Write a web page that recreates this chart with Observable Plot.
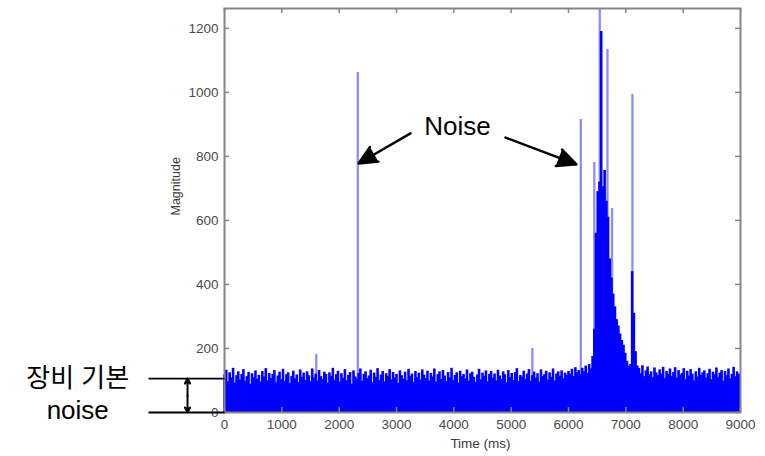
<!DOCTYPE html>
<html>
<head>
<meta charset="utf-8">
<script src="https://cdn.jsdelivr.net/npm/d3@7"></script>
<script src="https://cdn.jsdelivr.net/npm/@observablehq/plot@0.6"></script>
<style>
  html, body { margin: 0; padding: 0; background: #fff; }
</style>
</head>
<body>
<div id="chart"></div>
<script>
// ---- data ----
const sampleMs = 30; // sample interval of the magnitude trace (ms)
const noise = [
  118,132,96,124,108,138,92,115,127,101,119,134,98,112,125,88,121,109,130,104,
  116,95,128,111,137,99,122,106,119,131,93,114,126,102,135,97,118,124,90,113,
  129,105,117,94,133,110,123,100,127,115,96,136,108,120,98,131,112,103,126,119,
  92,124,113,138,101,118,129,95,121,107,134,99,116,125,88,130,111,104,122,136,
  97,119,127,106,114,132,93,123,110,137,100,117,128,96,121,113,134,102,125,108,
  119,91,130,115,104,126,99,135,112,120,94,128,109,123,101,133,117,106,129,98,
  122,111,136,95,118,127,103,131,114,97,125,108,138,100,116,124,92,129,112,119,
  105,133,98,121,126,110,94,117,135,102,123,113,130,96,119,128,107,120,99,132,
  114,103,127,118,93,131,109,122,100,125,137,97,116,111,129,104,120,134,98,115,
  126,107,121,95,133,112,118,129,101,124,110,136,99,120,127,113,130,105,123,116,
  128,119,135,112,140,125,131,118,138,127,145,122,150,136,
  175,260,560,690,720,1190,705,756,660,610,480,420,370,330,290,270,245,225,210,185,160,145,150,440,310,190,145,
  138,121,146,112,130,142,118,127,109,139,124,115,133,120,141,106,128,119,136,113,
  125,140,108,131,117,122,137,103,129,114,134,120,99,127,111,138,116,124,130,107,
  121,135,102,126,118,139,110,123,131,98,128,115,136,105,119,141,112,127,120
];
// isolated thin spikes (drawn lighter)
const spikeTimes = [1600, 2325, 5370, 6215, 6450, 6545, 6680, 6760, 7115];
const spikeMags  = [181, 1062, 200, 915, 781, 1262, 1134, 637, 994];

const xTicks = [0,1000,2000,3000,4000,5000,6000,7000,8000,9000];
const yTicks = [0,200,400,600,800,1000,1200];
const xDomain = [0, 9000];
const yDomain = [0, 1262];

// annotations (in data units)
const noiseLabel = ["Noise"];
const noiseLabelAt = [4064, 894];
const noiseArrowFrom = [[3244, 872], [4901, 859]];
const noiseArrowTo   = [[2337, 778], [6140, 775]];
const floorTexts  = ["장비 기본", "noise"];
const floorTextT  = -2560;
const floorTextV  = [106, 6];
const floorLevels = [106, 0];
const floorLineStart = -1326;
const floorArrowT = -645;

const spikes = spikeTimes.map((t, i) => ({t, v: spikeMags[i]}));
const trace = noise.map((v, i) => ({t: i * sampleMs, v}));
const arrows = noiseArrowFrom.map((f, i) => ({x1: f[0], y1: f[1], x2: noiseArrowTo[i][0], y2: noiseArrowTo[i][1]}));
const floorMid = (floorLevels[0] + floorLevels[1]) / 2;

const plot = Plot.plot({
  width: 765,
  height: 456,
  marginLeft: 224,
  marginRight: 25,
  marginTop: 8,
  marginBottom: 44,
  style: {fontFamily: "'Liberation Sans', Arial, 'Noto Sans CJK KR', sans-serif", fontSize: "14px", color: "#4a4a4a", background: "#fff"},
  x: {domain: xDomain, axis: null},
  y: {domain: yDomain, axis: null},
  marks: [
    Plot.ruleX(spikes, {x: "t", y1: 0, y2: "v", stroke: "#0000ff", strokeOpacity: 0.45, strokeWidth: 2.3}),
    Plot.ruleX(trace, {x: "t", y1: 0, y2: "v", stroke: "#0000ff", strokeWidth: 2.6}),
    Plot.frame({stroke: "#858585", strokeWidth: 2}),
    Plot.tickY(yTicks, {y: d => d, stroke: "#858585", strokeWidth: 1.5, insetRight: 511}),
    Plot.tickY(yTicks, {y: d => d, stroke: "#858585", strokeWidth: 1.5, insetLeft: 511}),
    Plot.tickX(xTicks, {x: d => d, stroke: "#858585", strokeWidth: 1.5, insetTop: 399}),
    Plot.tickX(xTicks, {x: d => d, stroke: "#858585", strokeWidth: 1.5, insetBottom: 399}),
    Plot.axisY(yTicks, {tickSize: 0, tickPadding: 6, label: null, fontSize: 13.5, tickFormat: d => String(d)}),
    Plot.axisX(xTicks, {tickSize: 0, tickPadding: 7, label: null, fontSize: 13.5, tickFormat: d => String(d)}),
    Plot.text(["Magnitude"], {text: d => d, frameAnchor: "left", rotate: -90, dx: -49, dy: 5, fontSize: 12.5, fill: "#3a3a3a"}),
    Plot.text(["Time (ms)"], {text: d => d, frameAnchor: "bottom", dy: 35, dx: -2, fontSize: 13.5, fill: "#3a3a3a"}),
    // annotations
    Plot.text(noiseLabel, {x: noiseLabelAt[0], y: noiseLabelAt[1], text: d => d, fontSize: 26, fill: "#000"}),
    Plot.arrow(arrows, {x1: "x1", y1: "y1", x2: "x2", y2: "y2", stroke: "#000", fill: "#000", strokeWidth: 2.4, headLength: 13, headAngle: 50}),
    Plot.text(floorTexts, {x: floorTextT, y: (d, i) => floorTextV[i], text: d => d, fontSize: 26, fill: "#000"}),
    Plot.link(floorLevels, {x1: floorLineStart, x2: 0, y1: d => d, y2: d => d, stroke: "#000", strokeWidth: 1.8}),
    Plot.arrow(floorLevels, {x1: floorArrowT, x2: floorArrowT, y1: floorMid, y2: d => d, stroke: "#000", fill: "#000", strokeWidth: 2, headLength: 9, headAngle: 55})
  ]
});
document.getElementById("chart").appendChild(plot);
</script>
</body>
</html>
